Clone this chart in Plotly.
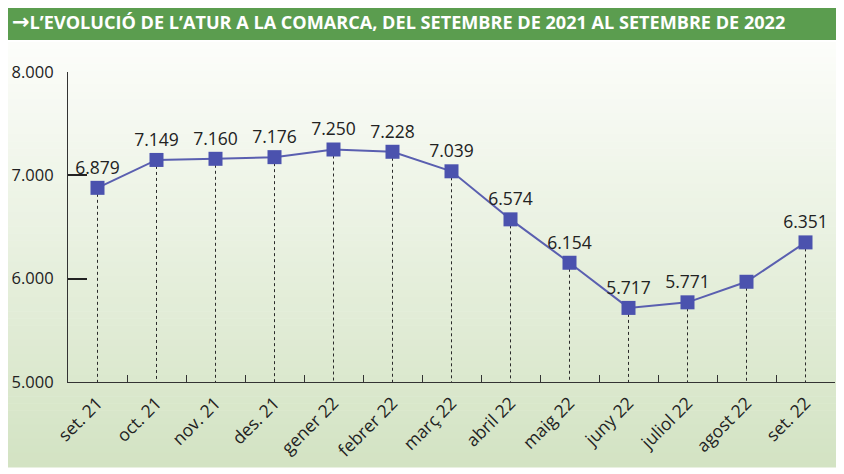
import plotly.graph_objects as go

# Atur registrat a la comarca, set. 2021 - set. 2022
mesos = ["set. 21", "oct. 21", "nov. 21", "des. 21", "gener 22", "febrer 22",
         "març 22", "abril 22", "maig 22", "juny 22", "juliol 22", "agost 22", "set. 22"]
aturats = [6879, 7149, 7160, 7176, 7250, 7228, 7039, 6574, 6154, 5717, 5771, 5970, 6351]
# el valor d'agost no surt etiquetat a l'original
etiquetes = ["6.879", "7.149", "7.160", "7.176", "7.250", "7.228", "7.039",
             "6.574", "6.154", "5.717", "5.771", "", "6.351"]
eix_y = [5000, 6000, 7000, 8000]

W, H = 844, 474
OFF = 8  # the page body adds an 8px margin, so shift everything back by it
# plot box in page pixels
X0, X1, Y0, Y1 = 68, 835, 72, 382


# page pixel -> paper coords
def px(x):
    return (x - X0) / (X1 - X0)


def py(y):
    return (Y1 - y) / (Y1 - Y0)


fig = go.Figure()

# dashed drop lines from every point to the baseline
xs, ys = [], []
for m, v in zip(mesos, aturats):
    xs += [m, m, None]
    ys += [v, eix_y[0], None]
fig.add_trace(go.Scatter(
    x=xs, y=ys, mode="lines",
    line=dict(color="#2a2a2a", width=1, dash="3px,3px"),
    hoverinfo="skip", showlegend=False,
))

fig.add_trace(go.Scatter(
    x=mesos, y=aturats, mode="lines+markers+text",
    line=dict(color="#5a5fb0", width=2),
    marker=dict(symbol="square", size=14, color="#4b52ae"),
    text=etiquetes, textposition="top center",
    textfont=dict(family="Open Sans", size=17.5, color="#222"),
    showlegend=False,
))

# soft green gradient background
shapes = []
n = 60
top, bot = 42, 467
c0, c1 = (252, 253, 250), (211, 227, 195)
for i in range(n):
    f = i / (n - 1)
    col = tuple(round(a + (b - a) * f) for a, b in zip(c0, c1))
    y0 = top + (bot - top) * i / n
    y1 = top + (bot - top) * (i + 1) / n
    shapes.append(dict(
        type="rect", xref="paper", yref="paper", layer="below",
        x0=px(0), x1=px(842), y0=py(y1 + 0.5), y1=py(y0),
        fillcolor="rgb(%d,%d,%d)" % col, line=dict(width=0),
    ))

# header bar
shapes.append(dict(
    type="rect", xref="paper", yref="paper", layer="below",
    x0=px(0), x1=px(852), y0=py(40), y1=py(3),
    fillcolor="#5b9d4f", line=dict(width=0),
))

fig.update_layout(
    width=W, height=H,
    margin=dict(l=X0 - OFF, r=W - (X1 - OFF), t=Y0 - OFF, b=H - (Y1 - OFF),
                autoexpand=False),
    paper_bgcolor="white",
    plot_bgcolor="rgba(0,0,0,0)",
    separators=",.",
    shapes=shapes,
    annotations=[dict(
        text="<b><span style='font-family:DejaVu Sans;font-size:21px'>→</span>"
             "L’EVOLUCIÓ DE L’ATUR A LA COMARCA, DEL SETEMBRE DE 2021 AL SETEMBRE DE 2022</b>",
        xref="paper", yref="paper", x=px(10), y=py(21.5),
        xanchor="left", yanchor="middle", showarrow=False,
        font=dict(family="Open Sans", size=18.1, color="white"),
    )],
    xaxis=dict(
        type="category", categoryorder="array", categoryarray=mesos,
        range=[-0.5, len(mesos) - 0.5], automargin=False,
        showline=True, linecolor="#333", linewidth=1.2,
        ticks="inside", tickson="boundaries", ticklen=7, tickcolor="#333",
        tickangle=-45, showgrid=False, zeroline=False, ticklabelstandoff=3,
        tickfont=dict(family="Open Sans", size=17.5, color="#222"),
    ),
    yaxis=dict(
        range=[eix_y[0], eix_y[-1]], tickvals=eix_y, tickformat=",d",
        showline=True, linecolor="#333", linewidth=1.2, automargin=False,
        ticks="inside", ticklen=19, tickwidth=1.5, tickcolor="#222",
        showgrid=False, zeroline=False, ticklabelstandoff=10,
        tickfont=dict(family="Open Sans", size=16.5, color="#222"),
    ),
)

fig.write_html("out.html")
